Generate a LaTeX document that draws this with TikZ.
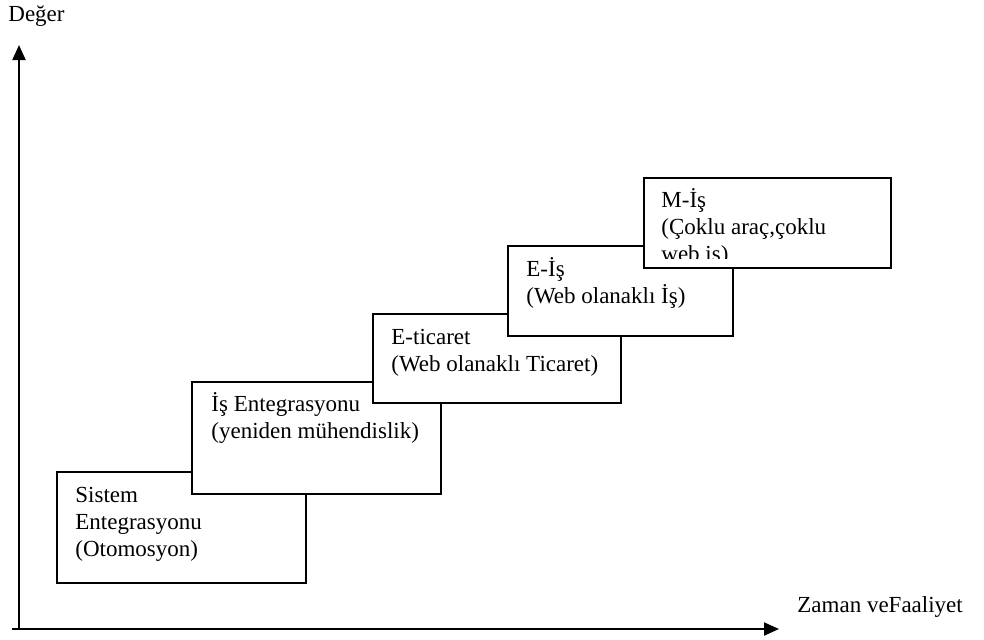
\documentclass[tikz,border=0pt]{standalone}
\usepackage{fontspec}
\setmainfont{Liberation Serif}
\usetikzlibrary{arrows.meta}
\tikzset{
  stagebox/.style={draw=black, line width=1pt, fill=white, inner sep=0pt, rectangle},
  lbl/.style={anchor=base west, inner sep=0pt, align=left, font=\fontsize{11.5pt}{13.5pt}\selectfont},
  axis/.style={line width=1pt, -{Triangle[width=6.5pt,length=7.5pt]}}
}
\begin{document}
\begin{tikzpicture}[x=0.5pt,y=-0.5pt]
\useasboundingbox (0,0) rectangle (984,639);
% axes
\coordinate (origin) at (19,629);
\coordinate (ytop) at (19,45);
\coordinate (xleft) at (12,629);
\coordinate (xright) at (779,629);
\draw[line width=1pt] (xleft) -- (origin);
\draw[axis] (origin) -- (ytop);
\draw[axis] (origin) -- (xright);
\node[lbl] (ylab) at (8,21) {Değer};
\node[lbl] (xlab) at (797,612) {Zaman veFaaliyet};
% boxes (anchor base west = baseline of the last line)
\node[stagebox, minimum width=124.5pt, minimum height=55.5pt] (b1) at (181.5,527.5) {};
\node[lbl, xshift=9.5pt, yshift=-42.5pt] (t1) at (b1.north west) {Sistem\\Entegrasyonu\\(Otomosyon)};
\node[stagebox, minimum width=124.5pt, minimum height=56pt] (b2) at (316.5,438) {};
\node[lbl, xshift=10pt, yshift=-28.5pt] (t2) at (b2.north west) {İş Entegrasyonu\\(yeniden mühendislik)};
\node[stagebox, minimum width=124pt, minimum height=44.5pt] (b3) at (497,358.5) {};
\node[lbl, xshift=9.5pt, yshift=-29pt] (t3) at (b3.north west) {E-ticaret\\(Web olanaklı Ticaret)};
\node[stagebox, minimum width=112.5pt, minimum height=45pt] (b4) at (620.5,291) {};
\node[lbl, xshift=9.5pt, yshift=-29pt] (t4) at (b4.north west) {E-İş\\(Web olanaklı İş)};
\node[stagebox, minimum width=123.5pt, minimum height=45pt] (b5) at (767.5,223) {};
\begin{scope}
\clip (644,178) rectangle (891,258);
\node[lbl, xshift=9pt, yshift=-42pt] (t5) at (b5.north west) {M-İş\\(Çoklu araç,çoklu\\web iş)};
\end{scope}
\end{tikzpicture}
\end{document}
